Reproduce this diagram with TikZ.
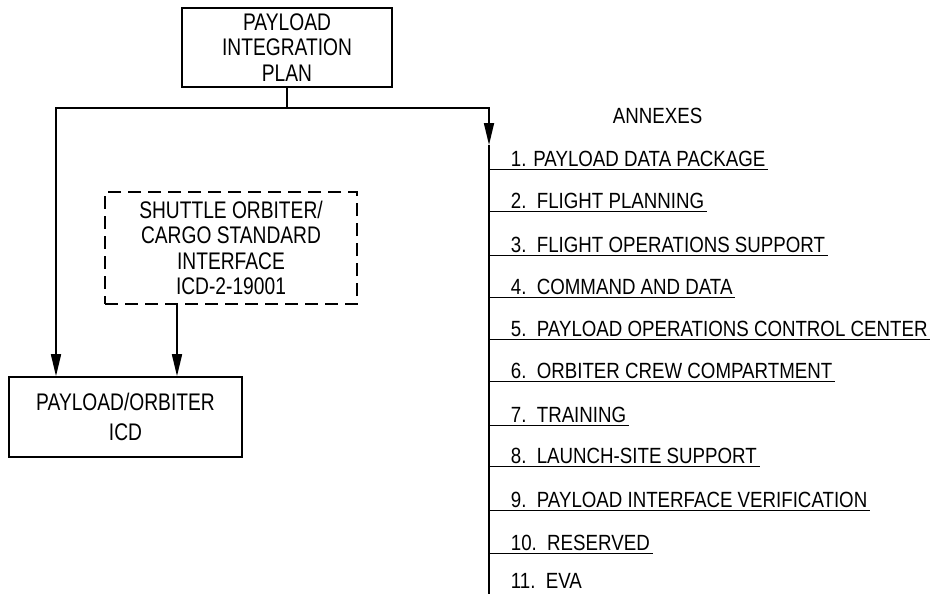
\documentclass[tikz,border=0pt]{standalone}
\usepackage{fontspec}
\setmainfont{Liberation Sans}
\newfontfamily\boxfont[FakeStretch=0.8]{Liberation Sans}
\newfontfamily\annexfont[FakeStretch=0.85]{Liberation Sans}
\usetikzlibrary{arrows.meta}
\begin{document}
\begin{tikzpicture}[x=1pt,y=-1pt,
  line width=1.7pt,
  boxnode/.style={draw, line width=1.6pt, align=center, inner sep=0pt,
    font=\boxfont\fontsize{24}{25.5}\selectfont},
  dashbox/.style={boxnode, dash pattern=on 13pt off 7pt},
  item/.style={anchor=base west, inner sep=0pt, font=\annexfont\fontsize{22}{24}\selectfont},
  arr/.style={-{Triangle[length=22pt,width=10pt]}}
]
\useasboundingbox (0,0) rectangle (931,594);

% boxes
\node[boxnode, minimum width=210pt, minimum height=79pt] (top) at (287,47.5)
  {PAYLOAD\\INTEGRATION\\PLAN};
\node[dashbox, minimum width=252pt, minimum height=112pt] (sso) at (231,248)
  {SHUTTLE ORBITER/\\CARGO STANDARD\\INTERFACE\\ICD-2-19001};
\node[boxnode, minimum width=233pt, minimum height=80pt,
  font=\boxfont\fontsize{24}{30}\selectfont] (poi) at (125.5,417)
  {PAYLOAD/ORBITER\\ICD};

% connectors
\coordinate (j) at (287,108);
\coordinate (lc) at (56,108);
\coordinate (rc) at (489,108);
\coordinate (rt) at (489,145);
\coordinate (rb) at (489,594);
\coordinate (d1) at (177,0);

\draw (top.south) -- (j);
\draw[arr] (j) -- (lc) -- (lc |- poi.north);
\draw[arr] (j) -- (rc) -- (rt);
\draw (rt) -- (rb);
\draw[arr] (sso.south -| d1) -- (d1 |- poi.north);

% annexes
\node[item] (ann) at (612,123) {ANNEXES};
\foreach \i/\y/\t in {
  1/166/{1. PAYLOAD DATA PACKAGE},
  2/208/{2.\ \ FLIGHT PLANNING},
  3/252/{3.\ \ FLIGHT OPERATIONS SUPPORT},
  4/294/{4.\ \ COMMAND AND DATA},
  5/336/{5.\ \ PAYLOAD OPERATIONS CONTROL CENTER},
  6/378/{6.\ \ ORBITER CREW COMPARTMENT},
  7/422/{7.\ \ TRAINING},
  8/463/{8.\ \ LAUNCH-SITE SUPPORT},
  9/507/{9.\ \ PAYLOAD INTERFACE VERIFICATION},
  10/550/{10.\ \ RESERVED}}{
  \node[item] (a\i) at (510,\y) {\t};
  \coordinate (s\i) at (489,\y+3.5);
  \draw[line width=1.4pt] (s\i) -- ([xshift=2pt]a\i.east |- s\i);
}
\node[item] (a11) at (510,588) {11.\ \ EVA};
\end{tikzpicture}
\end{document}
